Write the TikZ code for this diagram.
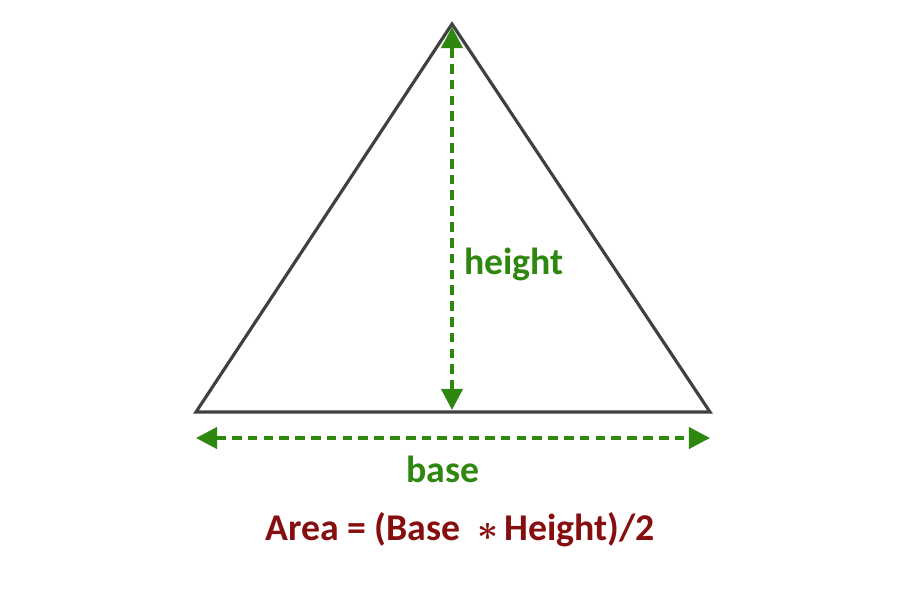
\documentclass[tikz,border=0pt]{standalone}
\usepackage{fontspec}
\setmainfont{Carlito}
\usetikzlibrary{arrows.meta}
\definecolor{measgreen}{RGB}{46,135,14}
\definecolor{formred}{RGB}{135,14,14}
\definecolor{edgegray}{RGB}{64,64,64}
\tikzset{
    measure/.style={measgreen, line width=2.2pt, dash pattern=on 5.5pt off 3.5pt,
        {Triangle[length=12pt,width=12pt]}-{Triangle[length=12pt,width=12pt]}},
    lbl/.style={font=\fontsize{21.5}{24}\selectfont\bfseries\boldmath}
}
\begin{document}
\begin{tikzpicture}[x=0.02cm,y=-0.02cm]
        \useasboundingbox (0,0) rectangle (900,600);
        \coordinate (apex) at (452,24);
        \coordinate (bl) at (196,412);
        \coordinate (br) at (710,412);
        \coordinate (foot) at (452,410);
        \coordinate (top) at (452,27);
        \coordinate (bas1) at (196,438);
        \coordinate (bas2) at (710,438);

        \draw [edgegray, line width=1.8pt, line join=miter] (apex) -- (br) -- (bl) -- cycle;

        \draw [measure] (foot) -- (top);
        \draw [measure] (bas1) -- (bas2);

        \node [lbl, measgreen] (height) at (514,264) {height};
        \node [lbl, measgreen] (base) at (443,469) {base};
        \node [lbl, formred] (area) at (460,530) {Area = (Base\ \ $\ast$\,Height)/2};
    \end{tikzpicture}
\end{document}
